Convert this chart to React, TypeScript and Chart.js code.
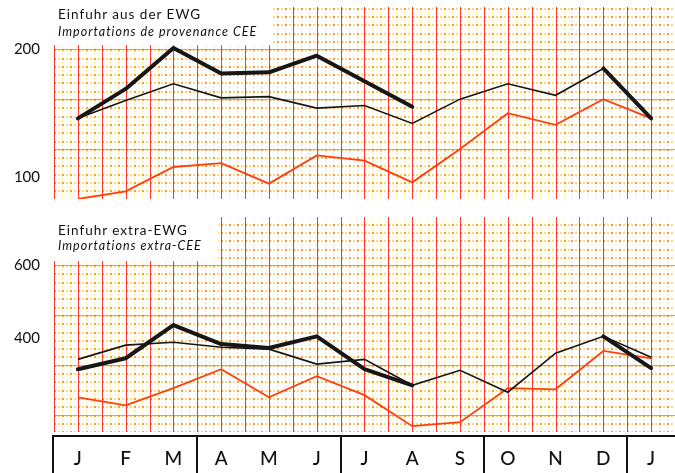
import React, { useEffect, useRef } from 'react';
import { Chart, registerables } from 'chart.js';

Chart.register(...registerables);

const months = ['J', 'F', 'M', 'A', 'M', 'J', 'J', 'A', 'S', 'O', 'N', 'D', 'J'];

// Einfuhr aus der EWG / Importations de provenance CEE
const topThick = [146, 169, 201, 181, 182, 195, 175, 155, null, null, null, 185, 146];
const topThin = [146, 160, 173, 162, 163, 154, 156, 142, 161, 173, 164, 185, 146];
const topOrange = [83, 89, 108, 111, 95, 117, 113, 96, 122, 150, 141, 161, 146];
const topTicks = [100, 200];

// Einfuhr extra-EWG / Importations extra-CEE
const bottomThick = [315, 345, 436, 384, 373, 405, 315, 271, null, null, null, 405, 318];
const bottomThin = [342, 381, 389, 375, 370, 329, 342, 271, 312, 252, 359, 405, 348];
const bottomOrange = [238, 216, 263, 315, 238, 296, 244, 159, 170, 263, 260, 365, 345];
const bottomTicks = [400, 600];

const FONT = 'Lato, "DejaVu Sans", sans-serif';
const ORANGE = '#ff3f0c';
const BLACK = '#161616';

type Box = { x0: number; y0: number; x1: number; y1: number };

function paperPlugin(exclude: Box, tickVal: number) {
  return {
    id: 'paper',
    beforeDatasetsDraw(chart: any) {
      const { ctx, chartArea: a, scales } = chart;
      const xs = scales.x;
      const ys = scales.y;
      const monthW = xs.getPixelForTick(1) - xs.getPixelForTick(0);
      const colStep = monthW / 6;
      const rowStep = 8.3;
      const x0 = xs.getPixelForTick(0) - monthW / 2;
      const yBase = ys.getPixelForValue(tickVal);
      ctx.save();
      ctx.beginPath();
      ctx.rect(a.left, a.top, a.right - a.left, a.bottom - a.top);
      ctx.clip();
      // faint yellow verticals
      ctx.fillStyle = 'rgba(240,228,70,0.22)';
      for (let x = x0; x <= a.right + 1; x += colStep) {
        ctx.fillRect(Math.round(x), a.top, 1, a.bottom - a.top);
      }
      // rows of dots
      let startRow = yBase;
      while (startRow - rowStep > a.top) startRow -= rowStep;
      for (let y = startRow; y <= a.bottom; y += rowStep) {
        for (let x = x0; x <= a.right + 1; x += colStep) {
          ctx.fillStyle = 'rgba(255,140,45,0.9)';
          ctx.fillRect(Math.round(x), Math.round(y), 2, 2);
          ctx.fillStyle = 'rgba(245,215,60,0.75)';
          ctx.fillRect(Math.round(x + colStep / 2), Math.round(y), 2, 2);
        }
        ctx.fillStyle = 'rgba(245,215,60,0.6)';
        for (let x = x0; x <= a.right + 1; x += colStep) {
          ctx.fillRect(Math.round(x), Math.round(y + rowStep / 2), 1, 1);
        }
      }
      // major horizontal orange lines
      ctx.fillStyle = 'rgba(255,120,40,0.75)';
      for (let y = yBase; y <= a.bottom; y += rowStep * 6) ctx.fillRect(a.left, Math.round(y), a.right - a.left, 1);
      for (let y = yBase - rowStep * 6; y >= a.top; y -= rowStep * 6) ctx.fillRect(a.left, Math.round(y), a.right - a.left, 1);
      // red verticals at every half month
      ctx.fillStyle = 'rgba(255,45,35,0.95)';
      for (let x = x0; x <= a.right + 1; x += monthW / 2) {
        ctx.fillRect(Math.round(x), a.top, 1, a.bottom - a.top);
      }
      // blank title area
      ctx.fillStyle = '#ffffff';
      ctx.fillRect(exclude.x0, exclude.y0, exclude.x1 - exclude.x0, exclude.y1 - exclude.y0);
      ctx.restore();
    },
  };
}

const boxPlugin = {
  id: 'monthBoxes',
  afterDraw(chart: any) {
    const { ctx, chartArea: a, scales } = chart;
    const xs = scales.x;
    const top = a.bottom + 4;
    ctx.save();
    ctx.strokeStyle = '#111';
    ctx.lineWidth = 2;
    ctx.strokeRect(53, top, 700, 100);
    [2, 5, 8, 11].forEach((i) => {
      const x = Math.round((xs.getPixelForTick(i) + xs.getPixelForTick(i + 1)) / 2);
      ctx.beginPath();
      ctx.moveTo(x, top);
      ctx.lineTo(x, top + 100);
      ctx.stroke();
    });
    ctx.restore();
  },
};

function buildConfig(
  thick: (number | null)[],
  thin: number[],
  orange: number[],
  ticks: number[],
  min: number,
  max: number,
  showX: boolean,
  padTop: number,
  padBottom: number,
  exclude: Box
): any {
  return {
    type: 'line',
    data: {
      labels: months,
      datasets: [
        { data: thick, borderColor: BLACK, borderWidth: 4, pointRadius: 0, tension: 0, spanGaps: false, borderJoinStyle: 'round', borderCapStyle: 'round' },
        { data: thin, borderColor: BLACK, borderWidth: 1.6, pointRadius: 0, tension: 0 },
        { data: orange, borderColor: ORANGE, borderWidth: 1.8, pointRadius: 0, tension: 0 },
      ],
    },
    options: {
      animation: false,
      responsive: true,
      maintainAspectRatio: false,
      events: [],
      layout: { padding: { top: padTop, bottom: padBottom, left: 0, right: 0 } },
      plugins: { legend: { display: false }, tooltip: { enabled: false }, title: { display: false } },
      scales: {
        x: {
          type: 'category',
          offset: true,
          display: showX,
          grid: { display: false },
          border: { display: false },
          ticks: { color: '#111', font: { family: FONT, size: 19, weight: '500' }, padding: 7, maxRotation: 0, autoSkip: false },
          afterFit: (s: any) => {
            if (showX) s.height = 41;
            s.paddingLeft = 0;
            s.paddingRight = 0;
          },
        },
        y: {
          min,
          max,
          grid: { display: false },
          border: { display: false },
          ticks: { color: '#111', font: { family: FONT, size: 15 }, padding: 6 },
          afterBuildTicks: (s: any) => {
            s.ticks = ticks.map((v) => ({ value: v }));
          },
          afterFit: (s: any) => {
            s.width = 54;
            s.paddingTop = 0;
            s.paddingBottom = 0;
          },
        },
      },
    },
    plugins: [paperPlugin(exclude, ticks[ticks.length - 1]), ...(showX ? [boxPlugin] : [])],
  };
}

const titleStyle = (top: number, italic: boolean): React.CSSProperties => ({
  position: 'absolute',
  left: 58,
  top,
  fontFamily: FONT,
  fontSize: italic ? 12.5 : 13.5,
  fontStyle: italic ? 'italic' : 'normal',
  letterSpacing: 1,
  color: '#111',
  whiteSpace: 'nowrap',
  lineHeight: '16px',
});

export default function App() {
  const topRef = useRef<HTMLCanvasElement>(null);
  const botRef = useRef<HTMLCanvasElement>(null);

  useEffect(() => {
    const c1 = new Chart(
      topRef.current as HTMLCanvasElement,
      buildConfig(topThick, topThin, topOrange, topTicks, 83, 233, false, 7, 6, { x0: 0, y0: 0, x1: 273, y1: 45 })
    );
    const c2 = new Chart(
      botRef.current as HTMLCanvasElement,
      buildConfig(bottomThick, bottomThin, bottomOrange, bottomTicks, 143, 732, true, 12, 0, { x0: 0, y0: 0, x1: 218, y1: 56 })
    );
    return () => {
      c1.destroy();
      c2.destroy();
    };
  }, []);

  return (
    <div style={{ position: 'absolute', left: 0, top: 0, width: 675, height: 473, background: '#fff', overflow: 'hidden' }}>
      <div style={{ position: 'absolute', left: 0, top: 0, width: 675, height: 205 }}>
        <canvas ref={topRef} />
      </div>
      <div style={{ position: 'absolute', left: 0, top: 205, width: 675, height: 268 }}>
        <canvas ref={botRef} />
      </div>
      <div style={titleStyle(6, false)}>Einfuhr aus der EWG</div>
      <div style={titleStyle(24, true)}>Importations de provenance CEE</div>
      <div style={titleStyle(222, false)}>Einfuhr extra-EWG</div>
      <div style={titleStyle(238, true)}>Importations extra-CEE</div>
    </div>
  );
}
